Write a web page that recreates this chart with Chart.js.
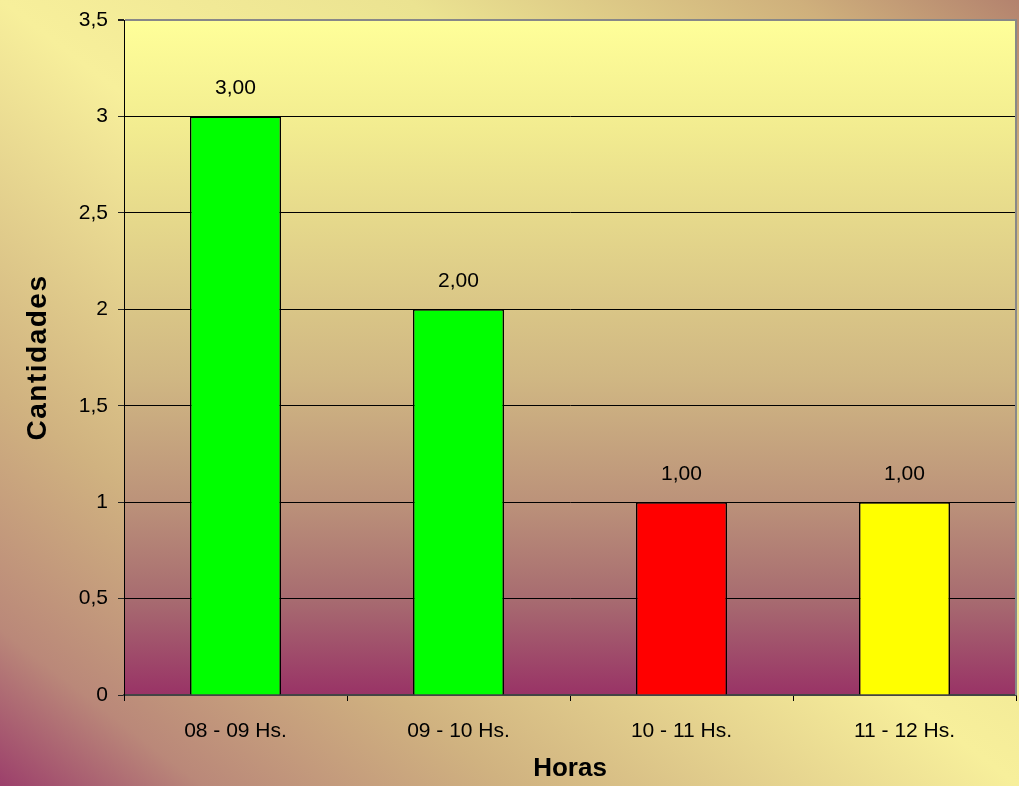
<!DOCTYPE html>
<html>
<head>
<meta charset="utf-8">
<script src="https://cdn.jsdelivr.net/npm/chart.js@4/dist/chart.umd.min.js"></script>
<style>
  html, body { margin:0; padding:0; background:#fff; }
  #wrap { width:1019px; height:786px; }
</style>
</head>
<body>
<div id="wrap"><canvas id="chart" width="1019" height="786"></canvas></div>
<script>
  // Datos del gráfico
  const categories = ['08 - 09 Hs.', '09 - 10 Hs.', '10 - 11 Hs.', '11 - 12 Hs.'];
  const values     = [3, 2, 1, 1];
  const barColors  = ['#00ff00', '#00ff00', '#ff0000', '#ffff00'];
  const yMin = 0, yMax = 3.5, yStep = 0.5;

  const FONT = "'Liberation Sans', Arial, sans-serif";
  const fmtComma = (v, d) => (d == null ? String(v) : v.toFixed(d)).replace('.', ',');

  // fondos: degradado diagonal exterior + degradado vertical del área de trazado
  const backgrounds = {
    id: 'backgrounds',
    beforeDraw(chart) {
      const { ctx, width, height, chartArea: a } = chart;
      ctx.save();
      const g = ctx.createLinearGradient(129, 886, 890, -100);
      g.addColorStop(0.00, '#9c3f6b');
      g.addColorStop(0.10, '#ba8879');
      g.addColorStop(0.25, '#d0b280');
      g.addColorStop(0.50, '#f7ef9b');
      g.addColorStop(0.70, '#ebe391');
      g.addColorStop(0.89, '#cfb07c');
      g.addColorStop(1.00, '#b3826e');
      ctx.fillStyle = g;
      ctx.fillRect(0, 0, width, height);

      const p = ctx.createLinearGradient(0, a.top, 0, a.bottom);
      p.addColorStop(0.00, '#ffff99');
      p.addColorStop(0.16, '#f2ec90');
      p.addColorStop(0.53, '#d0b783');
      p.addColorStop(0.71, '#bc937a');
      p.addColorStop(0.86, '#a76b70');
      p.addColorStop(1.00, '#993366');
      ctx.fillStyle = p;
      ctx.fillRect(a.left, a.top, a.right - a.left, a.bottom - a.top);
      ctx.restore();
    },
    afterLayout(chart) {
      // espaciado de letras en el título del eje Y
      const s = chart.scales.y;
      if (s && !s._spaced) {
        const orig = s.drawTitle.bind(s);
        s.drawTitle = function () {
          this.ctx.save();
          this.ctx.letterSpacing = '1.5px';
          orig();
          this.ctx.restore();
        };
        s._spaced = true;
      }
    },
    afterDatasetsDraw(chart) {
      const { ctx } = chart;
      const meta = chart.getDatasetMeta(0);
      ctx.save();
      ctx.font = '21px ' + FONT;
      ctx.fillStyle = '#000';
      ctx.textAlign = 'center';
      ctx.textBaseline = 'middle';
      meta.data.forEach((bar, i) => {
        ctx.fillText(fmtComma(values[i], 2), bar.x, bar.y - 28);
      });
      ctx.restore();
    },
    afterDraw(chart) {
      const { ctx, chartArea: a } = chart;
      ctx.save();
      ctx.strokeStyle = '#888';
      ctx.lineWidth = 2;
      ctx.beginPath();
      ctx.moveTo(a.right, a.top - 1);
      ctx.lineTo(a.right, a.bottom);
      ctx.stroke();
      ctx.restore();
    }
  };

  new Chart(document.getElementById('chart'), {
    type: 'bar',
    data: {
      labels: categories,
      datasets: [{
        data: values,
        backgroundColor: barColors,
        borderColor: '#000',
        borderWidth: 1.5,
        barPercentage: 0.408,
        categoryPercentage: 1
      }]
    },
    options: {
      responsive: false,
      devicePixelRatio: 1,
      animation: false,
      layout: { padding: { top: 20, right: 3, left: 0, bottom: 0 } },
      plugins: { legend: { display: false }, tooltip: { enabled: false } },
      scales: {
        x: {
          afterFit(scale) { scale.height = 91; scale.paddingLeft = 0; scale.paddingRight = 0; },
          grid: { drawOnChartArea: false, drawTicks: true, tickLength: 6, color: '#000', offset: true },
          border: { display: true, color: '#444', width: 2 },
          ticks: { color: '#000', font: { family: FONT, size: 21 }, padding: 18, maxRotation: 0 },
          title: { display: true, text: 'Horas', color: '#000',
                   font: { family: FONT, size: 26, weight: 'bold' }, padding: { top: 0, bottom: 2 } }
        },
        y: {
          min: yMin, max: yMax,
          afterFit(scale) { scale.width = 124; scale.paddingTop = 0; scale.paddingBottom = 0; },
          grid: {
            color: c => (c.tick && c.tick.value === yMax ? '#888' : '#000'),
            lineWidth: c => (c.tick && c.tick.value === yMax ? 2 : 1),
            tickColor: '#222',
            tickLength: 6,
            drawTicks: true
          },
          border: { display: true, color: '#000', width: 1 },
          ticks: { stepSize: yStep, color: '#000', font: { family: FONT, size: 21 }, padding: 10,
                   callback: v => fmtComma(v) },
          title: { display: true, text: 'Cantidades', color: '#000',
                   font: { family: FONT, size: 28, weight: 'bold' }, padding: { top: 21, bottom: 0 } }
        }
      }
    },
    plugins: [backgrounds]
  });
</script>
</body>
</html>
